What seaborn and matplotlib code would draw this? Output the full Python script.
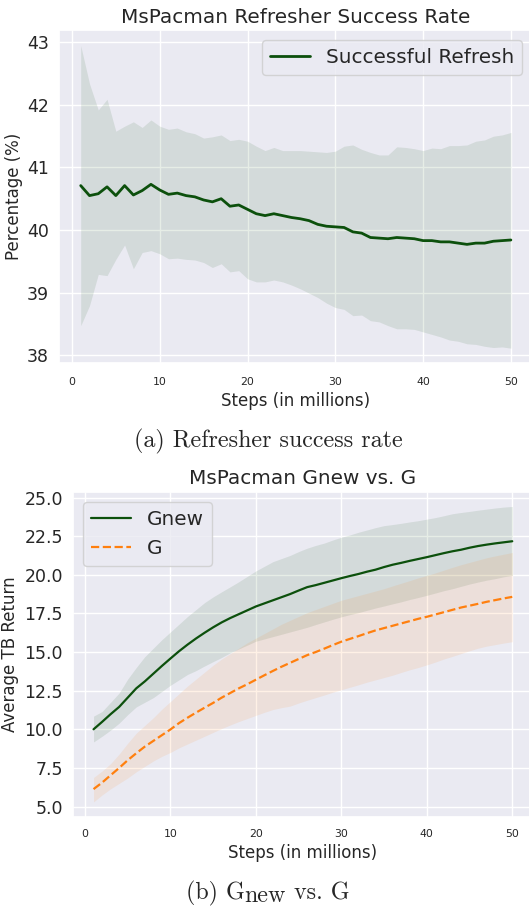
import numpy as np
import pandas as pd
import matplotlib
matplotlib.use("Agg")
import matplotlib.pyplot as plt
import matplotlib.ticker as mticker
import seaborn as sns

# ---------------- data ----------------
steps = list(range(1, 51))

refresh_mean = [40.71, 40.55, 40.58, 40.69, 40.55, 40.71, 40.56, 40.63, 40.73, 40.64,
                40.57, 40.59, 40.55, 40.53, 40.48, 40.45, 40.50, 40.38, 40.40, 40.33,
                40.26, 40.23, 40.26, 40.23, 40.20, 40.18, 40.15, 40.09, 40.06, 40.05,
                40.04, 39.97, 39.95, 39.88, 39.87, 39.86, 39.88, 39.87, 39.86, 39.83,
                39.83, 39.81, 39.81, 39.79, 39.77, 39.79, 39.79, 39.82, 39.83, 39.84]
refresh_upper = [42.95, 42.34, 41.92, 42.09, 41.58, 41.66, 41.73, 41.64, 41.76, 41.66,
                 41.61, 41.63, 41.57, 41.54, 41.47, 41.49, 41.52, 41.43, 41.45, 41.42,
                 41.34, 41.27, 41.32, 41.27, 41.27, 41.27, 41.26, 41.25, 41.24, 41.26,
                 41.34, 41.36, 41.29, 41.24, 41.20, 41.20, 41.33, 41.32, 41.30, 41.27,
                 41.31, 41.30, 41.35, 41.35, 41.36, 41.42, 41.44, 41.50, 41.52, 41.56]
refresh_lower = [38.47, 38.79, 39.29, 39.27, 39.53, 39.76, 39.38, 39.64, 39.67, 39.62,
                 39.54, 39.55, 39.53, 39.52, 39.48, 39.40, 39.46, 39.33, 39.35, 39.22,
                 39.17, 39.17, 39.20, 39.17, 39.12, 39.06, 38.99, 38.92, 38.83, 38.76,
                 38.73, 38.63, 38.64, 38.55, 38.53, 38.47, 38.42, 38.42, 38.41, 38.37,
                 38.33, 38.29, 38.24, 38.22, 38.18, 38.17, 38.14, 38.12, 38.13, 38.11]

gnew_mean = [10.00, 10.48, 10.98, 11.45, 12.05, 12.65, 13.10, 13.60, 14.10, 14.58,
             15.05, 15.48, 15.88, 16.25, 16.60, 16.92, 17.20, 17.45, 17.70, 17.95,
             18.15, 18.35, 18.55, 18.75, 18.98, 19.20, 19.33, 19.48, 19.63, 19.78,
             19.92, 20.05, 20.20, 20.33, 20.50, 20.65, 20.77, 20.90, 21.02, 21.14,
             21.27, 21.40, 21.52, 21.62, 21.75, 21.86, 21.95, 22.03, 22.10, 22.17]
gnew_upper = [10.85, 11.15, 11.75, 12.35, 13.25, 14.00, 14.70, 15.25, 15.80, 16.30,
              16.80, 17.30, 17.75, 18.20, 18.57, 18.90, 19.22, 19.55, 19.90, 20.25,
              20.55, 20.85, 21.05, 21.25, 21.50, 21.72, 21.90, 22.05, 22.25, 22.43,
              22.58, 22.75, 22.90, 23.05, 23.18, 23.25, 23.33, 23.42, 23.50, 23.60,
              23.70, 23.82, 23.95, 24.03, 24.10, 24.18, 24.25, 24.32, 24.38, 24.42]
gnew_lower = [9.18, 9.55, 9.95, 10.40, 10.95, 11.45, 11.75, 12.05, 12.45, 12.85,
              13.20, 13.55, 13.80, 14.10, 14.38, 14.65, 14.95, 15.20, 15.45, 15.70,
              15.85, 16.00, 16.15, 16.30, 16.45, 16.60, 16.78, 16.95, 17.12, 17.28,
              17.42, 17.55, 17.70, 17.85, 17.98, 18.12, 18.25, 18.40, 18.53, 18.67,
              18.82, 18.97, 19.10, 19.25, 19.40, 19.53, 19.65, 19.75, 19.87, 19.96]

g_mean = [6.13, 6.55, 7.03, 7.50, 8.00, 8.45, 8.88, 9.25, 9.62, 9.99,
          10.40, 10.75, 11.08, 11.40, 11.71, 12.05, 12.35, 12.65, 12.92, 13.21,
          13.50, 13.78, 14.05, 14.30, 14.55, 14.80, 15.00, 15.22, 15.45, 15.67,
          15.85, 16.03, 16.22, 16.40, 16.55, 16.70, 16.85, 17.00, 17.15, 17.28,
          17.43, 17.58, 17.73, 17.88, 18.00, 18.12, 18.25, 18.36, 18.47, 18.57]
g_upper = [6.88, 7.30, 7.78, 8.40, 9.10, 9.75, 10.25, 10.75, 11.30, 11.80,
           12.30, 12.80, 13.25, 13.70, 14.15, 14.55, 14.90, 15.25, 15.60, 15.90,
           16.20, 16.50, 16.80, 17.05, 17.30, 17.55, 17.75, 17.95, 18.15, 18.35,
           18.50, 18.65, 18.80, 18.95, 19.10, 19.28, 19.45, 19.62, 19.80, 19.96,
           20.12, 20.30, 20.48, 20.65, 20.80, 20.95, 21.10, 21.22, 21.33, 21.44]
g_lower = [5.30, 5.75, 6.15, 6.50, 6.85, 7.25, 7.60, 7.95, 8.25, 8.50,
           8.80, 9.05, 9.30, 9.55, 9.80, 10.05, 10.28, 10.50, 10.70, 10.90,
           11.10, 11.28, 11.40, 11.50, 11.70, 11.88, 12.05, 12.22, 12.40, 12.56,
           12.72, 12.88, 13.05, 13.20, 13.35, 13.50, 13.68, 13.85, 14.00, 14.17,
           14.35, 14.55, 14.72, 14.90, 15.08, 15.25, 15.38, 15.48, 15.58, 15.67]

title_top = "MsPacman Refresher Success Rate"
title_bottom = "MsPacman Gnew vs. G"
xlabel = "Steps (in millions)"
ylabel_top = "Percentage (%)"
ylabel_bottom = "Average TB Return"
caption_top = "(a) Refresher success rate"
caption_bottom_parts = ["(b) G", "new", " vs. G"]   # "new" is the lowered subscript

# ---------------- style ----------------
sns.set_theme(style="darkgrid")
plt.rcParams["font.family"] = ["DejaVu Sans"]

GREEN = "#0c500c"
ORANGE = "#ff7f0e"

W, H = 529, 909
fig = plt.figure(figsize=(W / 100, H / 100), dpi=100)

def px_axes(left, top, right, bottom):
    return fig.add_axes([left / W, 1 - bottom / H, (right - left) / W, (bottom - top) / H])

ax1 = px_axes(59.2, 30.4, 532.4, 363.3)
ax2 = px_axes(72.6, 491.7, 533.2, 816.7)

df1 = pd.DataFrame({"step": steps, "mean": refresh_mean})
ax1.fill_between(steps, refresh_lower, refresh_upper, color=GREEN, alpha=0.1, linewidth=0)
sns.lineplot(data=df1, x="step", y="mean", ax=ax1, color=GREEN, linewidth=2.0,
             label="Successful Refresh")

df2 = pd.DataFrame({"step": steps, "Gnew": gnew_mean, "G": g_mean})
ax2.fill_between(steps, gnew_lower, gnew_upper, color=GREEN, alpha=0.1, linewidth=0)
ax2.fill_between(steps, g_lower, g_upper, color=ORANGE, alpha=0.1, linewidth=0)
sns.lineplot(data=df2, x="step", y="Gnew", ax=ax2, color=GREEN, linewidth=1.6, label="Gnew")
sns.lineplot(data=df2, x="step", y="G", ax=ax2, color=ORANGE, linewidth=1.6,
             linestyle="--", label="G")

for ax, title, ylab, ylp, xpad in [(ax1, title_top, ylabel_top, 2.6, 10.2),
                                   (ax2, title_bottom, ylabel_bottom, 3.6, 9.1)]:
    ax.set_title(title, fontsize=14.4, pad=5.4)
    ax.set_xlabel(xlabel, fontsize=12, labelpad=3.2)
    ax.set_ylabel(ylab, fontsize=12, labelpad=ylp)
    ax.tick_params(axis="both", length=0)
    ax.tick_params(axis="x", labelsize=7.8, pad=xpad)
    ax.set_xticks([0, 10, 20, 30, 40, 50])

ax1.tick_params(axis="y", labelsize=12.5, pad=7.6)
ax2.tick_params(axis="y", labelsize=12.5, pad=7.0)
ax2.set_yticks([5.0, 7.5, 10.0, 12.5, 15.0, 17.5, 20.0, 22.5, 25.0])
ax2.yaxis.set_major_formatter(mticker.FormatStrFormatter("%.1f"))

ax1.legend(loc="upper right", fontsize=14.4)
ax2.legend(loc="upper left", fontsize=14.4)

# captions (serif, Computer Modern)
CAP_SIZE = 17.3
fig.text(268.5 / W, 1 - 447.5 / H, caption_top, ha="center", va="baseline",
         fontsize=CAP_SIZE, family="cmr10")

renderer = fig.canvas.get_renderer()
widths = []
tmp_texts = []
for part in caption_bottom_parts:
    t = fig.text(0, 0, part, fontsize=CAP_SIZE, family="cmr10", va="baseline", ha="left")
    widths.append(t.get_window_extent(renderer).width)
    tmp_texts.append(t)
total = sum(widths)
x0 = 267.5 - total / 2
base_y = 899.0
offsets = [0.0, 2.8, 0.0]
for t, w, off in zip(tmp_texts, widths, offsets):
    t.set_position((x0 / W, 1 - (base_y + off) / H))
    x0 += w

fig.savefig("out.png", dpi=100)
